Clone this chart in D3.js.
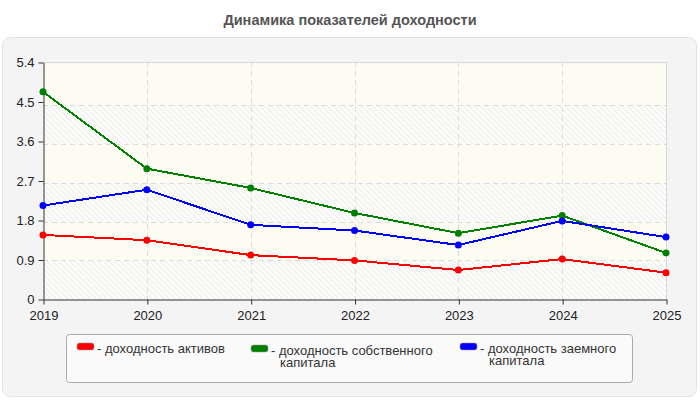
<!DOCTYPE html>
<html>
<head>
<meta charset="utf-8">
<script src="https://cdn.jsdelivr.net/npm/d3@7"></script>
<style>
  body { margin: 0; background: #fff; }
  svg { display: block; font-family: 'Liberation Sans', Arial, sans-serif; }
</style>
</head>
<body>
<svg id="chart" width="700" height="400"></svg>
<script>
const years = ['2019', '2020', '2021', '2022', '2023', '2024', '2025'];
const assetsReturn = [1.46, 1.34, 1.00, 0.88, 0.66, 0.91, 0.60];
const equityReturn = [4.72, 2.97, 2.53, 1.96, 1.50, 1.90, 1.05];
const debtReturn = [2.13, 2.49, 1.69, 1.56, 1.23, 1.78, 1.41];
const seriesNames = ['доходность активов', 'доходность собственного капитала', 'доходность заемного капитала'];
const seriesColors = ['#ff0000', '#008000', '#0000ff'];
const yTicks = [0, 0.9, 1.8, 2.7, 3.6, 4.5, 5.4];
const title = 'Динамика показателей доходности';

const margin = { top: 62, right: 34, bottom: 101, left: 43 };
const svg = d3.select('#chart');
const width = +svg.attr('width');
const height = +svg.attr('height');
const plotBottom = height - margin.bottom;
const plotRight = width - margin.right;

const series = [assetsReturn, equityReturn, debtReturn].map((values, i) => ({
  name: seriesNames[i],
  color: seriesColors[i],
  values: values.map((v, j) => ({ year: years[j], value: v }))
}));

const x = d3.scalePoint().domain(years).range([margin.left, plotRight]);
const y = d3.scaleLinear().domain([0, d3.max(yTicks)]).range([plotBottom, margin.top]);
// the grid in the original sits a few px lower than the tick marks
const gy = d3.scaleLinear().domain([0, d3.max(yTicks)]).range([plotBottom, margin.top + 4.5]);

// outer panel
svg.append('rect')
  .attr('x', 2.5).attr('y', 37.5)
  .attr('width', 694).attr('height', 359)
  .attr('rx', 8)
  .attr('fill', '#f4f4f4')
  .attr('stroke', '#e2e2e2');

svg.append('text')
  .attr('x', width / 2).attr('y', 25)
  .attr('text-anchor', 'middle')
  .style('font-size', '14.5px')
  .style('font-weight', 'bold')
  .attr('fill', '#555')
  .text(title);

// hatch pattern for plot background
const defs = svg.append('defs');
const pat = defs.append('pattern')
  .attr('id', 'hatch')
  .attr('patternUnits', 'userSpaceOnUse')
  .attr('width', 4).attr('height', 4)
  .attr('patternTransform', 'rotate(-45)');
pat.append('rect').attr('width', 4).attr('height', 4).attr('fill', '#fcfcfa');
pat.append('line')
  .attr('x1', 0).attr('y1', 0).attr('x2', 0).attr('y2', 4)
  .attr('stroke', '#e8e8e8').attr('stroke-width', 1.5);

const plotW = plotRight - margin.left;

svg.append('rect')
  .attr('x', margin.left).attr('y', margin.top)
  .attr('width', plotW).attr('height', plotBottom - margin.top)
  .attr('fill', 'url(#hatch)');

// alternating plain bands, starting from the top
const bands = yTicks.slice(1).map((t, i) => ({ lo: yTicks[i], hi: t, i }));
svg.append('g')
  .selectAll('rect')
  .data(bands.filter(b => (bands.length - 1 - b.i) % 2 === 0))
  .enter().append('rect')
  .attr('x', margin.left)
  .attr('y', d => d.i === bands.length - 1 ? margin.top : gy(d.hi))
  .attr('width', plotW)
  .attr('height', d => gy(d.lo) - (d.i === bands.length - 1 ? margin.top : gy(d.hi)))
  .attr('fill', '#fcfcf2');

// grid
const grid = svg.append('g')
  .attr('stroke', '#dcdcdc')
  .attr('stroke-dasharray', '5,4');
grid.selectAll('.hgrid')
  .data(yTicks.slice(1, -1))
  .enter().append('line')
  .attr('x1', margin.left).attr('x2', plotRight)
  .attr('y1', d => Math.round(gy(d)) + 0.5)
  .attr('y2', d => Math.round(gy(d)) + 0.5);
grid.selectAll('.vgrid')
  .data(years.slice(1, -1))
  .enter().append('line')
  .attr('x1', d => Math.round(x(d)) + 0.5)
  .attr('x2', d => Math.round(x(d)) + 0.5)
  .attr('y1', margin.top).attr('y2', plotBottom);

// plot border top/right
svg.append('path')
  .attr('d', `M${margin.left},${margin.top + 0.5}H${plotRight + 0.5}V${plotBottom}`)
  .attr('fill', 'none')
  .attr('stroke', '#d8d8d8');

// axes
const yAxis = svg.append('g')
  .attr('transform', `translate(${margin.left + 0.5},0.5)`)
  .call(d3.axisLeft(y).tickValues(yTicks).tickSize(5).tickSizeOuter(0)
    .tickFormat(d => d === 0 ? '0' : d3.format('.1f')(d)));
const xAxis = svg.append('g')
  .attr('transform', `translate(0.5,${plotBottom + 0.5})`)
  .call(d3.axisBottom(x).tickSize(5).tickSizeOuter(0));
[yAxis, xAxis].forEach(g => {
  g.select('.domain').attr('stroke', '#333');
  g.selectAll('.tick line').attr('stroke', '#333');
  g.selectAll('.tick text')
    .attr('fill', '#222')
    .style('font-size', '13px')
    .style('font-family', "'Liberation Sans', Arial, sans-serif");
});
yAxis.selectAll('.tick text').attr('x', -9);
xAxis.selectAll('.tick text').attr('y', 11);

// lines and points
const line = d3.line().x(d => x(d.year)).y(d => y(d.value));
const sg = svg.append('g').selectAll('g').data(series).enter().append('g');
sg.append('path')
  .attr('d', d => line(d.values))
  .attr('fill', 'none')
  .attr('stroke', d => d.color)
  .attr('stroke-width', 2)
  .style('shape-rendering', 'crispEdges');
sg.selectAll('circle')
  .data(d => d.values.map(v => ({ ...v, color: d.color })))
  .enter().append('circle')
  .attr('cx', d => x(d.year))
  .attr('cy', d => y(d.value))
  .attr('r', 3.5)
  .attr('fill', d => d.color);

// legend
svg.append('rect')
  .attr('x', 66.5).attr('y', 334.5)
  .attr('width', 566).attr('height', 48)
  .attr('rx', 3)
  .attr('fill', '#fafafa')
  .attr('stroke', '#aaa');

const legendX = [77, 251, 460];
const legendDy = [0, 2, 0];
const legend = svg.append('g').selectAll('g').data(series).enter().append('g')
  .attr('transform', (d, i) => `translate(${legendX[i]},${343 + legendDy[i]})`);
legend.append('rect')
  .attr('width', 17).attr('height', 7)
  .attr('rx', 2.5)
  .attr('fill', d => d.color)
  .attr('stroke', '#999')
  .attr('stroke-width', 0.5);
legend.each(function (d) {
  const g = d3.select(this);
  const words = d.name.split(' ');
  const lines = [];
  let cur = '- ' + words[0];
  const probe = g.append('text').style('font-size', '13px');
  words.slice(1).forEach(w => {
    probe.text(cur + ' ' + w);
    if (probe.node().getComputedTextLength() > 175) { lines.push(cur); cur = w; }
    else cur = cur + ' ' + w;
  });
  lines.push(cur);
  probe.remove();
  lines.forEach((l, k) => {
    g.append('text')
      .attr('fill', '#333')
      .style('font-size', '13px')
      .attr('x', k === 0 ? 20 : 29)
      .attr('y', 10 + k * 12)
      .text(l);
  });
});
</script>
</body>
</html>
